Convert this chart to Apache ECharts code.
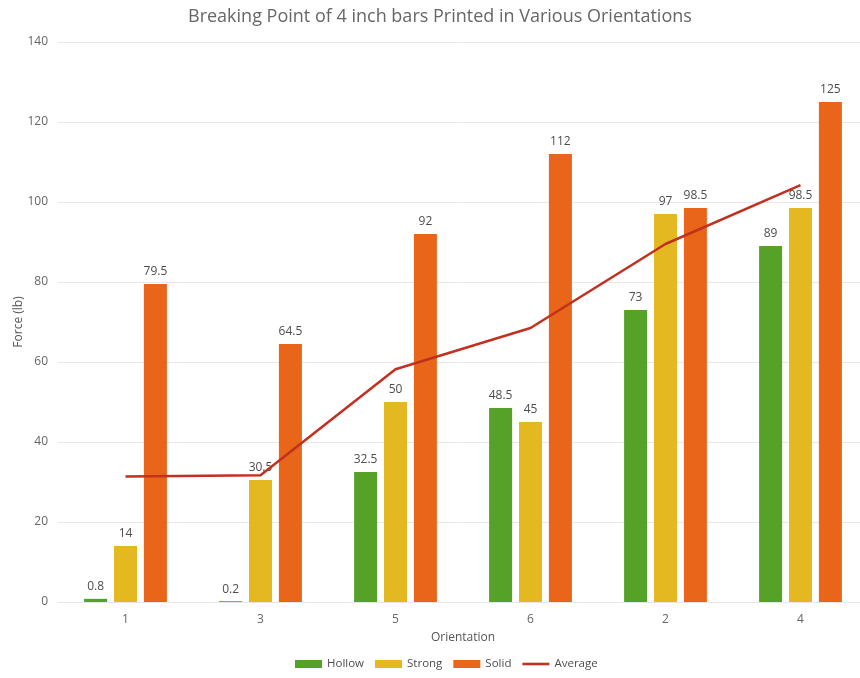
<!DOCTYPE html>
<html>
<head>
<meta charset="utf-8">
<script src="https://cdn.jsdelivr.net/npm/echarts@6/dist/echarts.min.js"></script>
<style>
  html, body { margin: 0; padding: 0; background: #ffffff; }
  #chart { width: 860px; height: 678px; }
</style>
</head>
<body>
<div id="chart"></div>
<script>
// Orientation categories, in the order they are plotted
const orientations = ['1', '3', '5', '6', '2', '4'];

// Breaking force (lb) for each infill style
const hollow = [0.8, 0.2, 32.5, 48.5, 73, 89];
const strong = [14, 30.5, 50, 45, 97, 98.5];
const solid = [79.5, 64.5, 92, 112, 98.5, 125];
const average = [31.4, 31.7, 58.2, 68.5, 89.5, 104.2];

// Y-axis tick range
const yMin = 0;
const yMax = 140;
const yStep = 20;

const FONT = 'Open Sans';

const chart = echarts.init(document.getElementById('chart'), null, { renderer: 'canvas' });

const barLabel = {
  show: true,
  position: 'top',
  distance: 6,
  color: '#4d4d4d',
  fontFamily: FONT,
  fontSize: 12
};

function barSeries(name, data, color) {
  return {
    name: name,
    type: 'bar',
    data: data,
    barWidth: 23,
    barGap: '30%',
    itemStyle: { color: color },
    label: barLabel,
    emphasis: { disabled: true }
  };
}

chart.setOption({
  animation: false,
  textStyle: { fontFamily: FONT },
  title: {
    text: 'Breaking Point of 4 inch bars Printed in Various Orientations',
    left: 183,
    top: 3,
    textStyle: { fontFamily: FONT, fontSize: 18, fontWeight: 'normal', color: '#666' }
  },
  legend: {
    bottom: 3,
    left: 290,
    itemWidth: 27,
    itemHeight: 8,
    itemGap: 11,
    symbolKeepAspect: true,
    textStyle: { fontFamily: FONT, fontSize: 11.5, color: '#4d4d4d' },
    data: [
      { name: 'Hollow', icon: 'rect' },
      { name: 'Strong', icon: 'rect' },
      { name: 'Solid', icon: 'rect' },
      { name: 'Average', icon: 'path://M0,0H27V2.6H0Z' }
    ]
  },
  grid: { left: 58, top: 42, width: 810, bottom: 76, outerBoundsMode: 'none', containLabel: false },
  xAxis: {
    type: 'category',
    data: orientations,
    name: 'Orientation',
    nameLocation: 'middle',
    nameGap: 30,
    nameMoveOverlap: false,
    nameTextStyle: { fontFamily: FONT, fontSize: 12, color: '#555' },
    axisLine: { show: true, lineStyle: { color: '#e6e6e6' } },
    axisTick: { show: false },
    axisLabel: { color: '#666', fontFamily: FONT, fontSize: 12, margin: 12 }
  },
  yAxis: {
    type: 'value',
    min: yMin,
    max: yMax,
    interval: yStep,
    name: 'Force (lb)',
    nameLocation: 'middle',
    nameGap: 33,
    nameMoveOverlap: false,
    nameTextStyle: { fontFamily: FONT, fontSize: 12, color: '#555' },
    axisLine: { show: false },
    axisTick: { show: false },
    axisLabel: { color: '#666', fontFamily: FONT, fontSize: 12, margin: 10 },
    splitLine: { lineStyle: { color: '#e8e8e8', width: 1 } }
  },
  series: [
    barSeries('Hollow', hollow, '#56a127'),
    barSeries('Strong', strong, '#e4b820'),
    barSeries('Solid', solid, '#e8651a'),
    {
      name: 'Average',
      type: 'line',
      data: average,
      showSymbol: false,
      symbol: 'none',
      lineStyle: { color: '#c2301f', width: 2.5 },
      itemStyle: { color: '#c2301f' },
      z: 5,
      emphasis: { disabled: true }
    }
  ]
});
</script>
</body>
</html>
